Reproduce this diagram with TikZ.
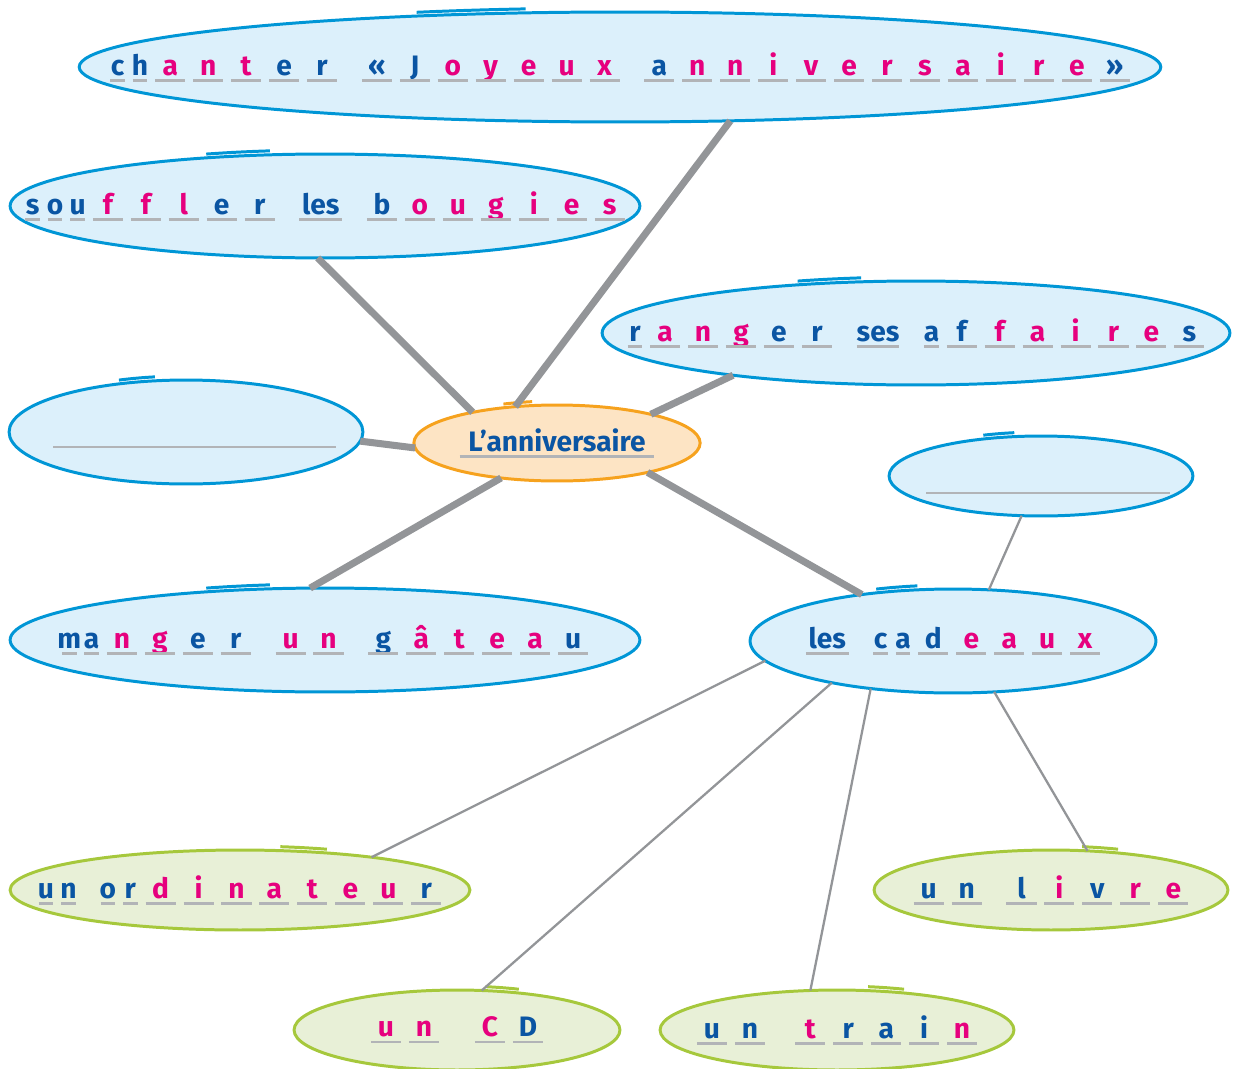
\documentclass[tikz,border=0pt]{standalone}
\usepackage{fontspec}
\setmainfont{Fira Sans}
\usetikzlibrary{shapes.geometric, calc}
\definecolor{encre}{HTML}{0A55A3}
\definecolor{rose}{HTML}{E6007E}
\definecolor{bord}{HTML}{0096D6}
\definecolor{fond}{HTML}{DCF0FB}
\definecolor{bordorange}{HTML}{F6A21E}
\definecolor{fondorange}{HTML}{FDE4C4}
\definecolor{bordvert}{HTML}{A6C83C}
\definecolor{fondvert}{HTML}{E8F0D7}
\definecolor{gris}{HTML}{939598}
\definecolor{tiret}{HTML}{B2B4B7}
\newcommand{\cel}[3]{\makebox[#1]{\color{#2}#3}\llap{\makebox[#1]{\color{tiret}\rule[-0.23em]{\dimexpr #1-0.28em\relax}{0.09em}}}}
\newcommand{\bleu}[1]{\cel{1.35em}{encre}{#1}}
\newcommand{\rosa}[1]{\cel{1.35em}{rose}{#1}}
\newcommand{\etr}[1]{\cel{0.8em}{encre}{#1}}
\newcommand{\mot}[1]{\cel{1.8em}{encre}{#1}}
\newcommand{\esp}{\hspace{0.6em}}

\begin{document}
\begin{tikzpicture}[x = 0.02cm, y = -0.02cm,
  bulle/.style = {ellipse, draw = bord, fill = fond, line width = 1.7pt, inner sep = 0pt, outer sep = 0pt,
    font = \fontsize{16}{19}\selectfont\bfseries},
  bullevert/.style = {bulle, draw = bordvert, fill = fondvert},
  rayons/.style 2 args = {minimum width = #1*0.04cm, minimum height = #2*0.04cm},
  gros/.style = {draw = gris, line width = 4pt},
  fin/.style = {draw = gris, line width = 1.3pt},
  blanc/.style = {draw = tiret, line width = 1.4pt}]
\useasboundingbox (0, 0) rectangle (1240, 1068);

\node[bulle, rayons = {541}{55}] (chanter) at (620, 67) {\makebox[0pt]{\etr{c}\etr{h}\rosa{a}\rosa{n}\rosa{t}\bleu{e}\bleu{r}\esp\bleu{«}\bleu{J}\rosa{o}\rosa{y}\rosa{e}\rosa{u}\rosa{x}\esp\bleu{a}\rosa{n}\rosa{n}\rosa{i}\rosa{v}\rosa{e}\rosa{r}\rosa{s}\rosa{a}\rosa{i}\rosa{r}\rosa{e}\bleu{»}}};
\node[bulle, rayons = {315}{52}] (souffler) at (325, 206) {\makebox[0pt]{\etr{s}\etr{o}\etr{u}\rosa{f}\rosa{f}\rosa{l}\bleu{e}\bleu{r}\esp\mot{les}\esp\bleu{b}\rosa{o}\rosa{u}\rosa{g}\rosa{i}\rosa{e}\rosa{s}}};
\node[bulle, rayons = {314}{52}] (ranger) at (916, 333) {\makebox[0pt]{\etr{r}\rosa{a}\rosa{n}\rosa{g}\bleu{e}\bleu{r}\esp\mot{ses}\esp\etr{a}\bleu{f}\rosa{f}\rosa{a}\rosa{i}\rosa{r}\rosa{e}\bleu{s}}};
\node[bulle, rayons = {177}{52}] (vide1) at (186, 432) {};
\node[bulle, draw = bordorange, fill = fondorange, rayons = {141}{38}] (centre) at (557, 443) {\cel{7.2em}{encre}{L’anniversaire}};
\node[bulle, rayons = {152}{40}] (vide2) at (1041, 476) {};
\node[bulle, rayons = {315}{52}] (manger) at (325, 640) {\makebox[0pt]{\etr{m}\etr{a}\rosa{n}\rosa{g}\bleu{e}\bleu{r}\esp\rosa{u}\rosa{n}\esp\bleu{g}\rosa{â}\rosa{t}\rosa{e}\rosa{a}\bleu{u}}};
\node[bulle, rayons = {203}{52}] (cadeaux) at (953, 641) {\makebox[0pt]{\mot{les}\esp\etr{c}\etr{a}\bleu{d}\rosa{e}\rosa{a}\rosa{u}\rosa{x}}};
\node[bullevert, rayons = {230}{40}] (ordinateur) at (240, 890) {\makebox[0pt]{\etr{u}\etr{n}\esp\etr{o}\etr{r}\rosa{d}\rosa{i}\rosa{n}\rosa{a}\rosa{t}\rosa{e}\rosa{u}\bleu{r}}};
\node[bullevert, rayons = {177}{40}] (livre) at (1051, 890) {\makebox[0pt]{\bleu{u}\bleu{n}\esp\bleu{l}\rosa{i}\bleu{v}\rosa{r}\rosa{e}}};
\node[bullevert, rayons = {163}{40}] (cd) at (457, 1030) {\makebox[0pt]{\rosa{u}\rosa{n}\esp\hspace{0.4em}\rosa{C}\bleu{D}}};
\node[bullevert, rayons = {177}{40}] (train) at (837, 1030) {\makebox[0pt]{\bleu{u}\bleu{n}\esp\hspace{0.2em}\rosa{t}\bleu{r}\bleu{a}\bleu{i}\rosa{n}}};

\draw[bord, line width = 1.7pt] (chanter.center) ++(-112:543 and 59) arc[start angle = -112, end angle = -100, x radius = 543, y radius = 59];
\draw[bord, line width = 1.7pt] (souffler.center) ++(-112:317 and 56) arc[start angle = -112, end angle = -100, x radius = 317, y radius = 56];
\draw[bord, line width = 1.7pt] (ranger.center) ++(-112:316 and 56) arc[start angle = -112, end angle = -100, x radius = 316, y radius = 56];
\draw[bord, line width = 1.7pt] (vide1.center) ++(-112:179 and 56) arc[start angle = -112, end angle = -100, x radius = 179, y radius = 56];
\draw[bordorange, line width = 1.7pt] (centre.center) ++(-112:143 and 42) arc[start angle = -112, end angle = -100, x radius = 143, y radius = 42];
\draw[bord, line width = 1.7pt] (vide2.center) ++(-112:154 and 44) arc[start angle = -112, end angle = -100, x radius = 154, y radius = 44];
\draw[bord, line width = 1.7pt] (manger.center) ++(-112:317 and 56) arc[start angle = -112, end angle = -100, x radius = 317, y radius = 56];
\draw[bord, line width = 1.7pt] (cadeaux.center) ++(-112:205 and 56) arc[start angle = -112, end angle = -100, x radius = 205, y radius = 56];
\draw[bordvert, line width = 1.7pt] (ordinateur.center) ++(-68:232 and 44) arc[start angle = -68, end angle = -80, x radius = 232, y radius = 44];
\draw[bordvert, line width = 1.7pt] (livre.center) ++(-68:179 and 44) arc[start angle = -68, end angle = -80, x radius = 179, y radius = 44];
\draw[bordvert, line width = 1.7pt] (cd.center) ++(-68:165 and 44) arc[start angle = -68, end angle = -80, x radius = 165, y radius = 44];
\draw[bordvert, line width = 1.7pt] (train.center) ++(-68:179 and 44) arc[start angle = -68, end angle = -80, x radius = 179, y radius = 44];

\draw[blanc] ($(vide1.center) + (-133, 15)$) -- ++(283, 0);
\draw[blanc] ($(vide2.center) + (-115, 17)$) -- ++(244, 0);

\draw[gros] (centre.139) -- (chanter.-26);
\draw[gros] (centre.160) -- (souffler.-98);
\draw[gros] (centre.17) -- (ranger.-167);
\draw[gros] (centre.182) -- (vide1.-3);
\draw[gros] (centre.-148) -- (manger.106);
\draw[gros] (centre.-18) -- (cadeaux.153);
\draw[fin] (cadeaux.55) -- (vide2.-116);
\draw[fin] (cadeaux.-174) -- (ordinateur.14);
\draw[fin] (cadeaux.-161) -- (cd.58);
\draw[fin] (cadeaux.-150) -- (train.124);
\draw[fin] (cadeaux.-51) -- (livre.47);
\end{tikzpicture}
\end{document}
